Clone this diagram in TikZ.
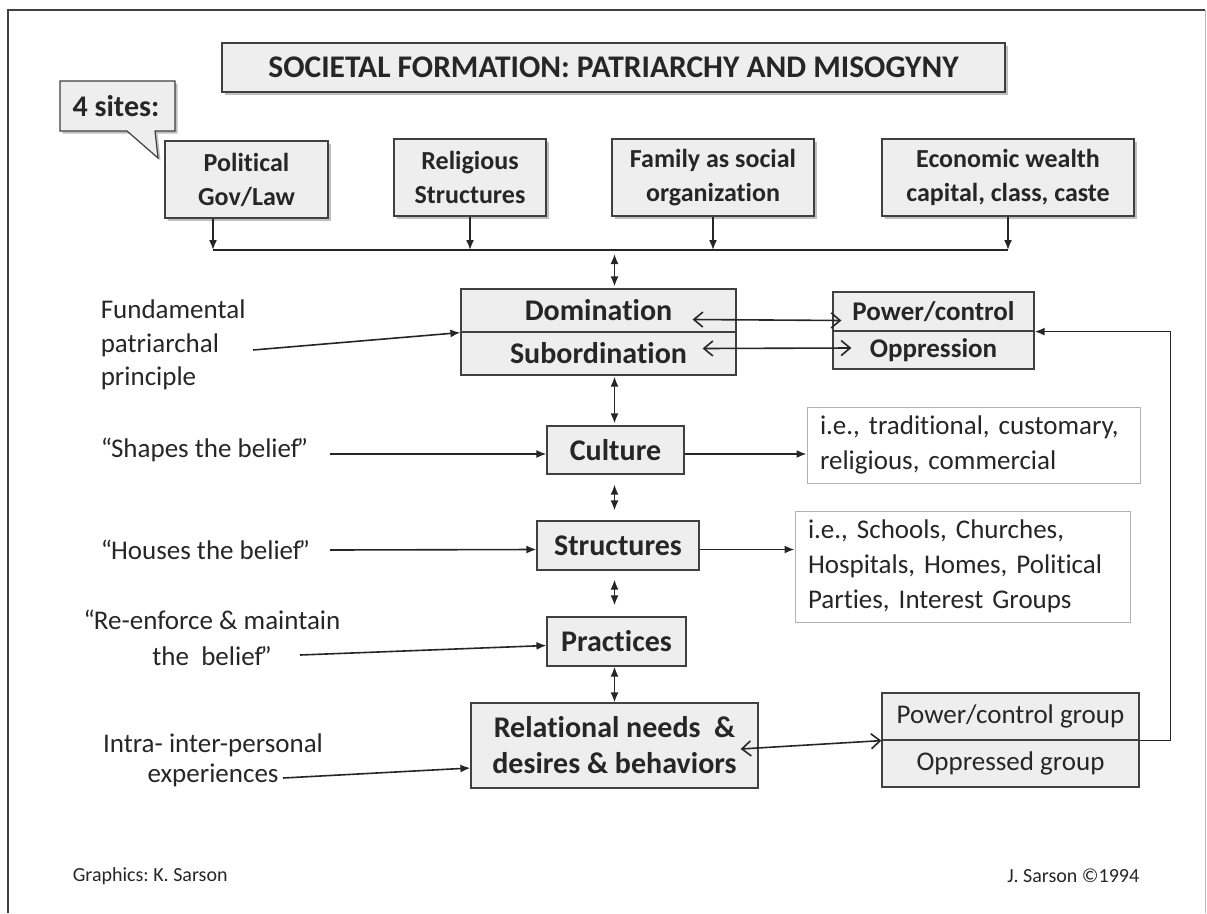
\documentclass[tikz,border=0pt]{standalone}
\usepackage{fontspec}
\setmainfont{Carlito}[Ligatures=NoCommon]
\usetikzlibrary{arrows.meta,shadows}
\definecolor{ink}{HTML}{262626}
\definecolor{boxfill}{HTML}{EEEEEE}
\definecolor{boxline}{HTML}{404040}
\tikzset{
  barb/.tip={Straight Barb[length=9pt,width=15pt,line width=1.6pt]},
  gbox/.style={draw=boxline,line width=1.2pt,fill=boxfill,align=center,inner sep=0pt},
  wbox/.style={draw=gray!60,line width=1pt,fill=white,align=left,inner xsep=13pt,inner ysep=0pt},
  shade/.style={drop shadow={shadow xshift=2.5pt,shadow yshift=-2.5pt,fill=black,opacity=.25}},
  big/.style={font=\fontsize{30}{36}\selectfont\bfseries},
  mid/.style={font=\fontsize{26}{34}\selectfont\bfseries},
  txt/.style={font=\fontsize{27}{35}\selectfont},
  small/.style={font=\fontsize{20}{24}\selectfont}
}
\newcommand\opq{“\kern-1pt}
\newcommand\clq{\kern-2.5pt”}
\frenchspacing
\begin{document}
\begin{tikzpicture}[x=1pt,y=-1pt,>={Latex[length=10pt,width=8pt]},line width=1.6pt,color=ink]
\useasboundingbox (0,0) rectangle (1207,913);
\draw[line width=1.5pt,boxline] (8,913) -- (8,10) -- (1205,10);
\draw[line width=1pt,gray!55] (1205,10) -- (1205,913);
\node[gbox,shade,font=\fontsize{31.5}{36}\selectfont\bfseries,minimum width=783,minimum height=49] (title) at (613.5,67.5) {SOCIETAL FORMATION: PATRIARCHY AND MISOGYNY};
\draw[gbox,shade] (60,81) -- (175,81) -- (175,131) -- (155,131) -- (158,158) -- (127,131) -- (60,131) -- cycle;
\node[big] (sites) at (116,106) {4 sites:};
\node[gbox,shade,mid,minimum width=163,minimum height=77] (pol) at (246.5,179.5) {Political\\Gov/Law};
\node[gbox,shade,mid,minimum width=152,minimum height=77] (rel) at (470,177.5) {Religious\\Structures};
\node[gbox,shade,mid,minimum width=202,minimum height=77] (fam) at (713,177.5) {Family as social\\organization};
\node[gbox,shade,mid,minimum width=252,minimum height=77] (eco) at (1008,177.5) {Economic wealth\\capital, class, caste};
\coordinate (busL) at (213,250);
\draw[->] (pol.south -| busL) -- (busL);
\draw[->] (rel.south) -- (rel.south |- busL);
\draw[->] (fam.south) -- (fam.south |- busL);
\draw[->] (eco.south) -- (eco.south |- busL);
\draw (busL) -- (eco.south |- busL);
\node[gbox,big,minimum width=275,minimum height=43] (domA) at (598.5,310.5) {Domination};
\node[gbox,big,minimum width=275,minimum height=43] (domB) at (598.5,353.5) {Subordination};
\node[gbox,font=\fontsize{27}{34}\selectfont\bfseries,minimum width=201,minimum height=39] (powA) at (933.5,311.5) {Power/control};
\node[gbox,font=\fontsize{27}{34}\selectfont\bfseries,minimum width=201,minimum height=38] (powB) at (933.5,350) {Oppression};
\node[gbox,big,minimum width=137,minimum height=48] (cul) at (615.5,450) {Culture};
\node[gbox,big,minimum width=162,minimum height=49] (str) at (618,545.5) {Structures};
\node[gbox,big,minimum width=139,minimum height=49] (pra) at (616.5,641.5) {Practices};
\node[gbox,big,minimum width=287,minimum height=85] (relb) at (614.5,745.5) {Relational needs~~\&\\desires \& behaviors};
\node[gbox,txt,minimum width=257,minimum height=47] (grpA) at (1010.5,716.5) {Power/control group};
\node[gbox,txt,minimum width=257,minimum height=47] (grpB) at (1010.5,763.5) {Oppressed group};
\node[wbox,txt,text width=307,minimum height=76] (ie1) at (973.5,445) {i.e., traditional, customary,\\religious, commercial};
\node[wbox,txt,text width=309,minimum height=111] (ie2) at (962.5,566.5) {i.e., Schools, Churches,\\Hospitals, Homes, Political\\Parties, Interest Groups};
\draw[<->,shorten <=4pt,shorten >=2pt] (busL -| relb.north) -- (domA.north -| relb.north);
\draw[<->,shorten <=1pt,shorten >=2pt] (domB.south -| relb.north) -- (cul.north -| relb.north);
\draw[<->,shorten <=10pt,shorten >=10pt] (cul.south -| relb.north) -- (str.north -| relb.north);
\draw[<->,shorten <=9pt,shorten >=11pt] (str.south -| relb.north) -- (pra.north -| relb.north);
\draw[<->] (pra.south -| relb.north) -- (relb.north);
\draw[barb-barb] ([shift={(-44,9)}]domA.east) -- ([shift={(9,9)}]powA.west);
\draw[barb-barb] ([shift={(-34,-5)}]domB.east) -- ([shift={(19,-2)}]powB.west);
\draw[->] ([yshift=-4pt]cul.east) -- ([yshift=-4pt]cul.east -| ie1.west);
\draw[->] ([yshift=-4pt]str.east) -- ([yshift=-4pt]str.east -| ie2.west);
\draw[barb-barb] ([shift={(-18,3.5)}]relb.east) -- (grpA.south west);
\draw[->] (grpA.south east) -- ++(31,0) |- (powA.south east);
\node[txt,inner sep=0pt,anchor=west,align=left,font=\fontsize{27}{33.5}\selectfont] (fund) at (100,345) {Fundamental\\patriarchal\\principle};
\node[txt,inner sep=0pt,anchor=west] (shp) at (100,450) {\opq Shapes the belief\clq};
\node[txt,inner sep=0pt,anchor=west] (hou) at (100,550) {\opq Houses the belief\clq};
\node[txt,inner sep=0pt,align=center,font=\fontsize{27}{36}\selectfont] (reen) at (212,638) {\opq Re-enforce \& maintain\\the~~belief\clq};
\node[txt,inner sep=0pt,align=center,font=\fontsize{27}{30}\selectfont] (intra) at (213,760) {Intra- inter-personal\\experiences};
\coordinate (fundA) at (253,350);
\coordinate (shpA) at (330,454);
\coordinate (houA) at (330,550);
\coordinate (reenA) at (300,655);
\coordinate (intraA) at (283,778);
\draw[->] (fundA) -- (domA.south west);
\draw[->] (shpA) -- ([yshift=-4pt]cul.west);
\draw[->] (houA) -- ([yshift=-4pt]str.west);
\draw[->] (reenA) -- ([yshift=-4pt]pra.west);
\draw[->] (intraA) -- ([yshift=-22.5pt]relb.west);
\node[small,inner sep=0pt,anchor=west] (gfx) at (72,876) {Graphics: K. Sarson};
\node[small,inner sep=0pt,anchor=east] (copy) at (1140,876) {J. Sarson ©1994};
\end{tikzpicture}
\end{document}
